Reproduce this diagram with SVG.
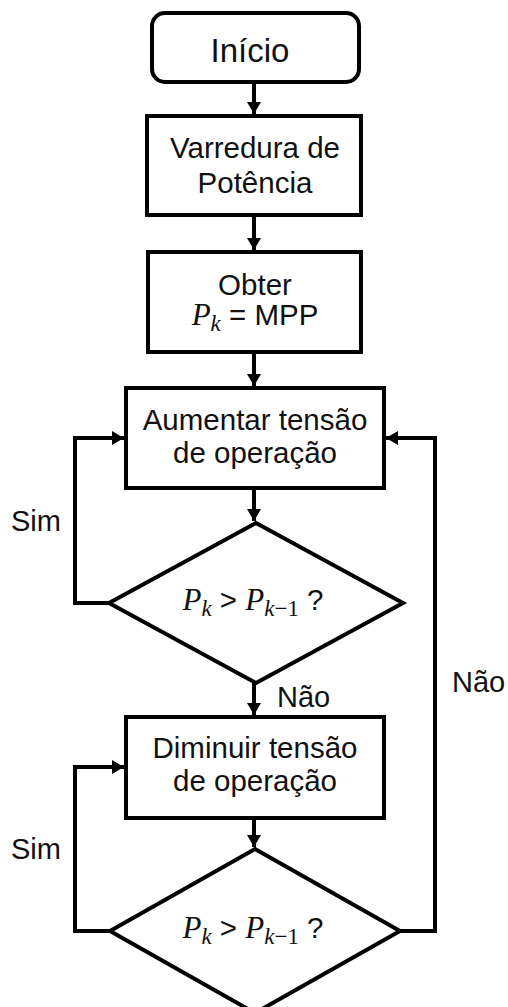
<svg xmlns="http://www.w3.org/2000/svg" width="508" height="1007" viewBox="0 0 508 1007">
<defs>
<marker id="ah" viewBox="0 0 12 14" refX="12" refY="7" markerWidth="12" markerHeight="14" markerUnits="userSpaceOnUse" orient="auto">
<path d="M0,0 L12,7 L0,14 Z" fill="#000"/>
</marker>
<style>
.shape{fill:#fff;stroke:#000;stroke-width:4}
.conn{fill:none;stroke:#000;stroke-width:4}
.t{font-family:"Liberation Sans",Arial,sans-serif;font-size:29.5px;fill:#111;text-anchor:middle}
.lbl{font-family:"Liberation Sans",Arial,sans-serif;font-size:29px;fill:#111}
.m{font-family:"Liberation Serif","DejaVu Serif",serif;font-style:italic}
.mu{font-family:"Liberation Serif","DejaVu Serif",serif;font-style:normal}
</style>
</defs>
<rect width="508" height="1007" fill="#fff"/>
<g id="connectors">
<line class="conn" x1="254" y1="82" x2="254" y2="114" marker-end="url(#ah)"/>
<line class="conn" x1="254" y1="215" x2="254" y2="250" marker-end="url(#ah)"/>
<line class="conn" x1="254" y1="352" x2="254" y2="386" marker-end="url(#ah)"/>
<line class="conn" x1="254" y1="488" x2="254" y2="521" marker-end="url(#ah)"/>
<line class="conn" x1="254" y1="683" x2="254" y2="715" marker-end="url(#ah)"/>
<line class="conn" x1="254" y1="818" x2="254" y2="847" marker-end="url(#ah)"/>
<polyline class="conn" points="109,603 75,603 75,438 124,438" marker-end="url(#ah)"/>
<polyline class="conn" points="109,931 75,931 75,767 124,767" marker-end="url(#ah)"/>
<polyline class="conn" points="400,931 435,931 435,438 386,438" marker-end="url(#ah)"/>
</g>
<g id="inicio">
<rect class="shape" x="152" y="13" width="207" height="69" rx="13"/>
<text class="t" x="250" y="62" style="font-size:33px">Início</text>
</g>
<g id="varredura">
<rect class="shape" x="147" y="116" width="214" height="99"/>
<text class="t" x="255" y="158">Varredura de</text>
<text class="t" x="255" y="193">Potência</text>
</g>
<g id="obter">
<rect class="shape" x="148" y="252" width="213" height="100"/>
<text class="t" x="255" y="295">Obter</text>
<text class="t" x="255" y="325"><tspan class="m" style="font-size:31px">P</tspan><tspan class="m" style="font-size:23px" dy="6">k</tspan><tspan dy="-6"> = MPP</tspan></text>
</g>
<g id="aumentar">
<rect class="shape" x="126" y="388" width="258" height="100"/>
<text class="t" x="255" y="430">Aumentar tensão</text>
<text class="t" x="255" y="463">de operação</text>
</g>
<g id="decisao1">
<polygon class="shape" points="256,523 403,603 256,683 109,603"/>
<text class="t" x="253" y="610"><tspan class="m" style="font-size:31px">P</tspan><tspan class="m" style="font-size:23px" dy="6">k</tspan><tspan dy="-6"> &gt; </tspan><tspan class="m" style="font-size:31px">P</tspan><tspan class="m" style="font-size:23px" dy="6">k</tspan><tspan class="mu" style="font-size:23px">−1</tspan><tspan dy="-6"> ?</tspan></text>
</g>
<g id="diminuir">
<rect class="shape" x="126" y="717" width="258" height="101"/>
<text class="t" x="255" y="758">Diminuir tensão</text>
<text class="t" x="255" y="791">de operação</text>
</g>
<g id="decisao2">
<polygon class="shape" points="255,849 400,931 255,1013 110,931"/>
<text class="t" x="253" y="938"><tspan class="m" style="font-size:31px">P</tspan><tspan class="m" style="font-size:23px" dy="6">k</tspan><tspan dy="-6"> &gt; </tspan><tspan class="m" style="font-size:31px">P</tspan><tspan class="m" style="font-size:23px" dy="6">k</tspan><tspan class="mu" style="font-size:23px">−1</tspan><tspan dy="-6"> ?</tspan></text>
</g>
<g id="labels">
<text class="lbl" x="11" y="531">Sim</text>
<text class="lbl" x="11" y="859">Sim</text>
<text class="lbl" x="277" y="707">Não</text>
<text class="lbl" x="452" y="692">Não</text>
</g>
</svg>
